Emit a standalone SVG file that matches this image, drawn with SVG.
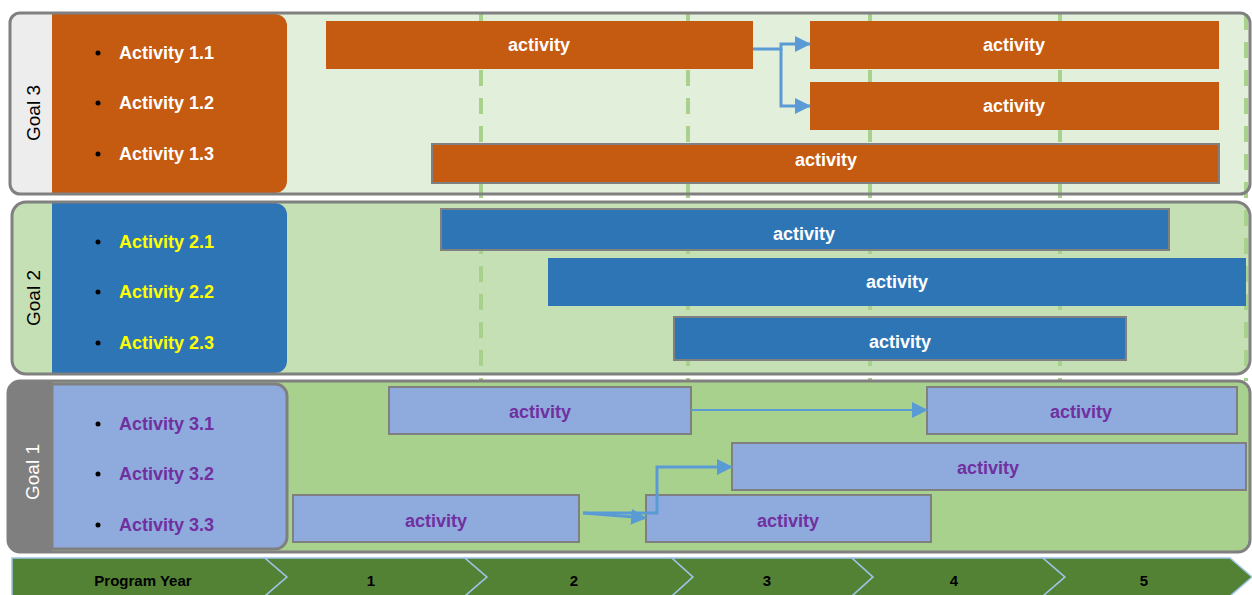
<svg xmlns="http://www.w3.org/2000/svg" width="1252" height="595" viewBox="0 0 1252 595">
<style>
.goal{font-family:"Liberation Sans",Arial,sans-serif;font-size:19px;}
.act{font-family:"Liberation Sans",Arial,sans-serif;font-size:18px;font-weight:bold;}
.bar{font-family:"Liberation Sans",Arial,sans-serif;font-size:18px;font-weight:bold;text-anchor:middle;}
.yr{font-family:"Liberation Sans",Arial,sans-serif;font-size:15px;font-weight:bold;text-anchor:middle;fill:#000;}
.outline{fill:none;stroke:#808080;stroke-width:3;}
.b3{fill:#c55a11;}
.b2{fill:#2e75b6;}
.b1{fill:#8faadc;stroke:#808080;stroke-width:2;}
.edge{stroke:#808080;stroke-width:2;}
.dash{stroke:#a9d18e;stroke-width:4;stroke-dasharray:16 12;}
.conn{fill:none;stroke:#5b9bd5;stroke-width:3;}
.chev{fill:#548235;stroke:#9dc3e6;stroke-width:1.5;}
</style>
<defs>
<marker id="ah" markerUnits="userSpaceOnUse" markerWidth="16" markerHeight="16" refX="15" refY="8" orient="auto">
<path d="M0,0 L16,8 L0,16 Z" fill="#5b9bd5"/>
</marker>
<clipPath id="c3"><rect x="10" y="13" width="1240" height="181" rx="10"/></clipPath>
<clipPath id="c2"><rect x="12" y="202" width="1238" height="172" rx="14"/></clipPath>
<clipPath id="c1"><rect x="8" y="381" width="1242" height="171" rx="12"/></clipPath>
</defs>

<!-- panel backgrounds -->
<g id="panel-goal3-bg" clip-path="url(#c3)">
<rect x="10" y="13" width="1240" height="181" fill="#e2efda"/>
<rect x="10" y="13" width="42" height="181" fill="#ededed"/>
</g>
<g id="panel-goal2-bg" clip-path="url(#c2)">
<rect x="12" y="202" width="1238" height="172" fill="#c5e0b4"/>
</g>
<g id="panel-goal1-bg" clip-path="url(#c1)">
<rect x="8" y="381" width="1242" height="171" fill="#a9d18e"/>
<rect x="8" y="381" width="44" height="171" fill="#7f7f7f"/>
</g>

<!-- year gridlines -->
<g id="gridlines">
<line class="dash" x1="481" y1="14" x2="481" y2="381"/>
<line class="dash" x1="688" y1="14" x2="688" y2="381"/>
<line class="dash" x1="870" y1="14" x2="870" y2="381"/>
<line class="dash" x1="1060" y1="14" x2="1060" y2="381"/>
<line class="dash" x1="1246" y1="14" x2="1246" y2="381"/>
</g>

<!-- Goal 3 -->
<g id="goal3">
<path d="M52,14 H275 A12,12 0 0 1 287,26 V181 A12,12 0 0 1 275,193 H52 Z" fill="#c55a11"/>
<text class="goal" transform="translate(40,113) rotate(-90)" text-anchor="middle" fill="#000">Goal 3</text>
<circle cx="98" cy="53" r="2.5" fill="#000"/>
<text class="act" x="119" y="59" fill="#fff">Activity 1.1</text>
<circle cx="98" cy="103" r="2.5" fill="#000"/>
<text class="act" x="119" y="109" fill="#fff">Activity 1.2</text>
<circle cx="98" cy="154" r="2.5" fill="#000"/>
<text class="act" x="119" y="160" fill="#fff">Activity 1.3</text>
</g>
<g id="bar-3-1"><rect class="b3" x="326" y="21" width="427" height="48"/><text class="bar" x="539" y="51" fill="#fff">activity</text></g>
<g id="bar-3-2"><rect class="b3" x="810" y="21" width="409" height="48"/><text class="bar" x="1014" y="51" fill="#fff">activity</text></g>
<g id="bar-3-3"><rect class="b3" x="810" y="82" width="409" height="48"/><text class="bar" x="1014" y="112" fill="#fff">activity</text></g>
<g id="bar-3-4"><rect class="b3 edge" x="432" y="144" width="787" height="39"/><text class="bar" x="826" y="166" fill="#fff">activity</text></g>
<rect class="outline" x="10" y="13" width="1240" height="181" rx="10"/>

<!-- Goal 2 -->
<g id="goal2">
<path d="M52,203 H275 A12,12 0 0 1 287,215 V361 A12,12 0 0 1 275,373 H52 Z" fill="#2e75b6"/>
<text class="goal" transform="translate(40,298) rotate(-90)" text-anchor="middle" fill="#000">Goal 2</text>
<circle cx="98" cy="242" r="2.5" fill="#000"/>
<text class="act" x="119" y="248" fill="#ffff00">Activity 2.1</text>
<circle cx="98" cy="292" r="2.5" fill="#000"/>
<text class="act" x="119" y="298" fill="#ffff00">Activity 2.2</text>
<circle cx="98" cy="343" r="2.5" fill="#000"/>
<text class="act" x="119" y="349" fill="#ffff00">Activity 2.3</text>
</g>
<g id="bar-2-1"><rect class="b2 edge" x="441" y="209" width="728" height="41"/><text class="bar" x="804" y="240" fill="#fff">activity</text></g>
<g id="bar-2-2"><rect class="b2" x="548" y="258" width="698" height="48"/><text class="bar" x="897" y="288" fill="#fff">activity</text></g>
<g id="bar-2-3"><rect class="b2 edge" x="674" y="317" width="452" height="43"/><text class="bar" x="900" y="348" fill="#fff">activity</text></g>
<rect class="outline" x="12" y="202" width="1238" height="172" rx="14"/>

<!-- Goal 1 -->
<g id="goal1">
<path d="M52,384 H275 A12,12 0 0 1 287,396 V537 A12,12 0 0 1 275,549 H52 Z" fill="#8faadc" stroke="#808080" stroke-width="3"/>
<text class="goal" transform="translate(39,472) rotate(-90)" text-anchor="middle" fill="#fff">Goal 1</text>
<circle cx="98" cy="424" r="2.5" fill="#000"/>
<text class="act" x="119" y="430" fill="#7030a0">Activity 3.1</text>
<circle cx="98" cy="474" r="2.5" fill="#000"/>
<text class="act" x="119" y="480" fill="#7030a0">Activity 3.2</text>
<circle cx="98" cy="525" r="2.5" fill="#000"/>
<text class="act" x="119" y="531" fill="#7030a0">Activity 3.3</text>
</g>
<g id="bar-1-1"><rect class="b1" x="389" y="387" width="302" height="47"/><text class="bar" x="540" y="418" fill="#7030a0">activity</text></g>
<g id="bar-1-2"><rect class="b1" x="927" y="387" width="310" height="47"/><text class="bar" x="1081" y="418" fill="#7030a0">activity</text></g>
<g id="bar-1-3"><rect class="b1" x="732" y="443" width="514" height="47"/><text class="bar" x="988" y="474" fill="#7030a0">activity</text></g>
<g id="bar-1-4"><rect class="b1" x="293" y="495" width="286" height="47"/><text class="bar" x="436" y="527" fill="#7030a0">activity</text></g>
<g id="bar-1-5"><rect class="b1" x="646" y="495" width="285" height="47"/><text class="bar" x="788" y="527" fill="#7030a0">activity</text></g>
<rect class="outline" x="8" y="381" width="1242" height="171" rx="12"/>

<!-- connectors -->
<g id="connectors">
<path class="conn" d="M753,49 H781 V44 H810" marker-end="url(#ah)"/>
<path class="conn" d="M781,49 V106 H810" marker-end="url(#ah)"/>
<path class="conn" style="stroke-width:2" d="M691,410 H927" marker-end="url(#ah)"/>
<path class="conn" d="M583,513 L646,518" marker-end="url(#ah)"/>
<path class="conn" d="M583,513 H657 V467 H732" marker-end="url(#ah)"/>
</g>

<!-- program year band -->
<g id="program-year">
<polygon class="chev" points="12,558 265,558 287,577 265,596 12,596"/>
<polygon class="chev" points="265,558 465,558 487,577 465,596 265,596 287,577"/>
<polygon class="chev" points="465,558 672,558 693,577 672,596 465,596 487,577"/>
<polygon class="chev" points="672,558 852,558 873,577 852,596 672,596 693,577"/>
<polygon class="chev" points="852,558 1043,558 1065,577 1043,596 852,596 873,577"/>
<polygon class="chev" points="1043,558 1230,558 1252,577 1230,596 1043,596 1065,577"/>
<text class="yr" x="143" y="586">Program Year</text>
<text class="yr" x="371" y="586">1</text>
<text class="yr" x="574" y="586">2</text>
<text class="yr" x="767" y="586">3</text>
<text class="yr" x="954" y="586">4</text>
<text class="yr" x="1144" y="586">5</text>
</g>
</svg>
